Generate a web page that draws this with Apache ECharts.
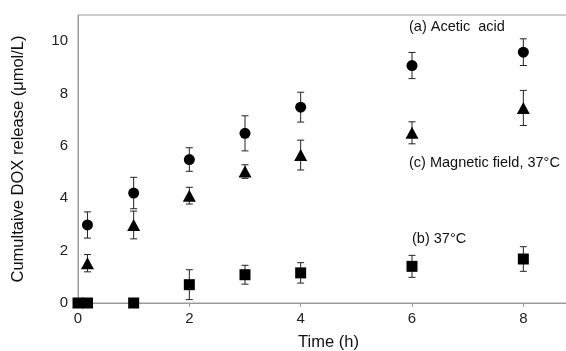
<!DOCTYPE html>
<html><head><meta charset="utf-8">
<script src="https://cdn.jsdelivr.net/npm/echarts@6/dist/echarts.min.js"></script>
<style>html,body{margin:0;padding:0;background:#fff}#c{width:566px;height:351px}</style>
</head><body><div id="c"></div>
<script>
var xTicks = [0, 2, 4, 6, 8];
var yTicks = [0, 2, 4, 6, 8, 10];

var timeA = [0.17, 1, 2, 3, 4, 6, 8];
var aceticAcid = [2.98, 4.2, 5.48, 6.48, 7.48, 9.07, 9.58];
var aceticAcidErr = [0.5, 0.6, 0.45, 0.67, 0.57, 0.5, 0.51];

var timeC = [0.17, 1, 2, 3, 4, 6, 8];
var magnetic = [1.52, 2.98, 4.1, 5.02, 5.65, 6.5, 7.45];
var magneticErr = [0.33, 0.53, 0.32, 0.26, 0.57, 0.42, 0.67];

var timeB = [0, 0.17, 1, 2, 3, 4, 6, 8];
var temp37 = [0, 0, 0, 0.7, 1.08, 1.15, 1.4, 1.68];
var temp37Err = [0, 0, 0, 0.57, 0.36, 0.39, 0.42, 0.47];

var FONT = "'Liberation Sans', Arial, sans-serif";

function pts(t, v) { return t.map(function (x, i) { return [x, v[i]]; }); }
function errs(t, v, e) {
  var out = [];
  t.forEach(function (x, i) { if (e[i] > 0) out.push([x, v[i] - e[i], v[i] + e[i]]); });
  return out;
}
function errSeries(data) {
  return {
    type: 'custom', z: 1, silent: true,
    data: data,
    renderItem: function (params, api) {
      var lo = api.coord([api.value(0), api.value(1)]);
      var hi = api.coord([api.value(0), api.value(2)]);
      var w = 3.5;
      var st = { stroke: '#222', lineWidth: 1 };
      return { type: 'group', children: [
        { type: 'line', shape: { x1: lo[0], y1: lo[1], x2: hi[0], y2: hi[1] }, style: st },
        { type: 'line', shape: { x1: lo[0] - w, y1: lo[1], x2: lo[0] + w, y2: lo[1] }, style: st },
        { type: 'line', shape: { x1: hi[0] - w, y1: hi[1], x2: hi[0] + w, y2: hi[1] }, style: st }
      ]};
    }
  };
}

var chart = echarts.init(document.getElementById('c'), null, { renderer: 'canvas' });
chart.setOption({
  animation: false,
  backgroundColor: '#fff',
  grid: { left: 78, top: 15, width: 501, height: 288, outerBoundsMode: 'none', containLabel: false,
    show: true, borderColor: '#9a9a9a', borderWidth: 1 },
  xAxis: {
    type: 'value', min: 0, max: 9, interval: 2,
    name: 'Time (h)', nameLocation: 'middle', nameGap: 31,
    nameTextStyle: { fontFamily: FONT, fontSize: 16.5, color: '#111' },
    axisLine: { lineStyle: { color: '#9a9a9a' } },
    axisTick: { show: true, length: 4, inside: false, lineStyle: { color: '#9a9a9a' } },
    axisLabel: { fontFamily: FONT, fontSize: 15, color: '#222', margin: 8, showMaxLabel: false,
      formatter: function (v) { return xTicks.indexOf(v) >= 0 ? String(v) : ''; } },
    splitLine: { show: false }
  },
  yAxis: {
    type: 'value', min: 0, max: 11, interval: 2,
    name: 'Cumultaive DOX release (μmol/L)', nameLocation: 'middle', nameGap: 51,
    nameTextStyle: { fontFamily: FONT, fontSize: 16.5, color: '#111' },
    axisLine: { show: true, lineStyle: { color: '#9a9a9a' } },
    axisTick: { show: false },
    axisLabel: { fontFamily: FONT, fontSize: 15, color: '#222', margin: 10, showMaxLabel: false,
      formatter: function (v) { return yTicks.indexOf(v) >= 0 ? String(v) : ''; } },
    splitLine: { show: false }
  },
  graphic: [
    { type: 'text', left: 409, top: 19, style: { text: '(a) Acetic  acid', font: "14.5px 'Liberation Sans', Arial", fill: '#111' } },
    { type: 'text', left: 409, top: 155, style: { text: '(c) Magnetic field, 37°C', font: "14.5px 'Liberation Sans', Arial", fill: '#111' } },
    { type: 'text', left: 412, top: 231, style: { text: '(b) 37°C', font: "14.5px 'Liberation Sans', Arial", fill: '#111' } }
  ],
  series: [
    errSeries(errs(timeA, aceticAcid, aceticAcidErr)),
    errSeries(errs(timeC, magnetic, magneticErr)),
    errSeries(errs(timeB, temp37, temp37Err)),
    { type: 'scatter', z: 3, symbol: 'circle', symbolSize: 11, itemStyle: { color: '#000', opacity: 1 }, data: pts(timeA, aceticAcid) },
    { type: 'scatter', z: 3, symbol: 'triangle', symbolSize: [13, 12], itemStyle: { color: '#000', opacity: 1 }, data: pts(timeC, magnetic) },
    { type: 'scatter', z: 3, symbol: 'rect', symbolSize: 11, itemStyle: { color: '#000', opacity: 1 }, data: pts(timeB, temp37) }
  ]
});
</script></body></html>
